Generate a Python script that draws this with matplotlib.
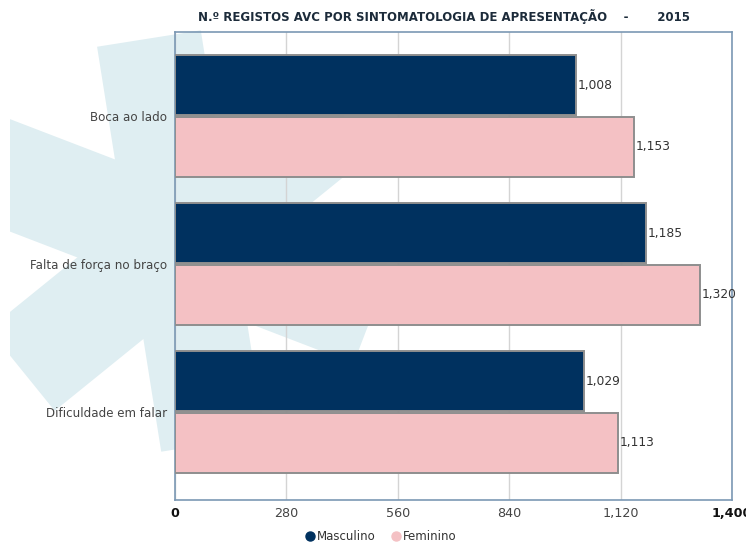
import matplotlib
matplotlib.use("Agg")
import matplotlib.pyplot as plt
import numpy as np
from matplotlib.patches import Polygon
from matplotlib.lines import Line2D
from matplotlib.ticker import FuncFormatter

categories = ["Boca ao lado", "Falta de força no braço", "Dificuldade em falar"]
masculino = [1008, 1185, 1029]
feminino = [1153, 1320, 1113]
series_names = ["Masculino", "Feminino"]
x_ticks = [0, 280, 560, 840, 1120, 1400]
title = "N.º REGISTOS AVC POR SINTOMATOLOGIA DE APRESENTAÇÃO    -       2015"

navy = "#00315f"
pink = "#f4c1c4"
edge = "#8e8e8e"

W, H = 746, 544
fig = plt.figure(figsize=(W / 100, H / 100), dpi=100)
fig.patch.set_facecolor("white")

# faint star-of-life watermark behind the chart (pixel coordinates, y down)
wm = fig.add_axes([0, 0, 1, 1], zorder=0)
wm.set_xlim(0, W)
wm.set_ylim(H, 0)
wm.axis("off")
cx, cy, arm_len, arm_w, rot = 181, 241, 205, 105, 9
for k in range(3):
    ang = np.deg2rad(90 + rot + 60 * k)
    d = np.array([np.cos(ang), -np.sin(ang)])
    n = np.array([-d[1], d[0]])
    c = np.array([cx, cy])
    pts = [c + d * arm_len + n * arm_w / 2, c + d * arm_len - n * arm_w / 2,
           c - d * arm_len - n * arm_w / 2, c - d * arm_len + n * arm_w / 2]
    wm.add_patch(Polygon(pts, closed=True, facecolor="#dfeef2", edgecolor="none"))
wm.add_patch(Polygon([[0, 0], [10, 0], [10, H], [0, H]], facecolor="white", edgecolor="none"))

ax = fig.add_axes([175 / W, 1 - 500 / H, (732 - 175) / W, (500 - 32) / H], zorder=1)
ax.patch.set_alpha(0)

y = np.arange(len(categories))
off = 0.207
h = 0.405
ax.barh(y - off, masculino, height=h, color=navy, edgecolor=edge, linewidth=1.4, zorder=3)
ax.barh(y + off, feminino, height=h, color=pink, edgecolor=edge, linewidth=1.4, zorder=3)

for yi, v in zip(y - off, masculino):
    ax.text(v + 4, yi, f"{v:,}", va="center", ha="left", fontsize=8.8, color="#333333", zorder=4)
for yi, v in zip(y + off, feminino):
    ax.text(v + 4, yi, f"{v:,}", va="center", ha="left", fontsize=8.8, color="#333333", zorder=4)

ax.set_xlim(0, 1400)
ax.set_ylim(2.595, -0.568)
ax.set_xticks(x_ticks)
ax.xaxis.set_major_formatter(FuncFormatter(lambda v, p: f"{int(v):,}"))
ax.set_yticks(y)
ax.set_yticklabels(categories)
ax.tick_params(axis="y", length=0, pad=6, labelsize=8.6, labelcolor="#444444")
ax.tick_params(axis="x", length=0, pad=5, labelsize=9.2, labelcolor="#444444")
for lbl in ax.get_xticklabels():
    if lbl.get_text() in ("0", "1,400"):
        lbl.set_fontweight("bold")
        lbl.set_color("#111111")
ax.grid(axis="x", color="#d4d4d4", linewidth=1, zorder=0)
ax.set_axisbelow(True)
for s in ax.spines.values():
    s.set_color("#7b98b4")
    s.set_linewidth(1.2)

fig.text(444 / W, 1 - 16 / H, title, ha="center", va="center", fontsize=8.5,
         fontweight="bold", color="#1c2b3a",
         family=["Liberation Sans Narrow", "DejaVu Sans"])

handles = [Line2D([], [], marker="o", linestyle="none", markersize=6.5,
                  markerfacecolor=c, markeredgecolor=c) for c in (navy, pink)]
fig.legend(handles, series_names, loc="center", bbox_to_anchor=(380 / W, 1 - 537 / H),
           ncol=2, frameon=False, fontsize=8.5, handlelength=1.0, handletextpad=0.1,
           columnspacing=1.2, labelcolor="#333333")

fig.savefig("out.png", dpi=100)
